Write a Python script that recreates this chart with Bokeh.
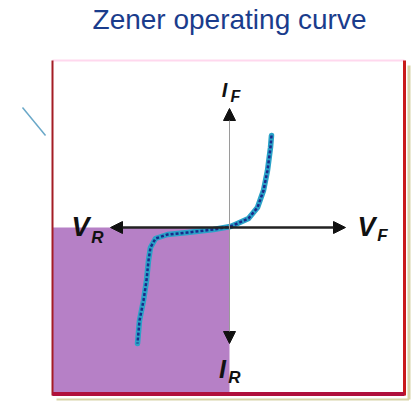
from bokeh.plotting import figure
from bokeh.models import Range1d, Arrow, NormalHead, ColumnDataSource
from bokeh.core.properties import value
from bokeh.embed import file_html
from bokeh.resources import INLINE

# ---- data (schematic units) ----
curve_v = [4.2, 4.1, 3.8, 3.4, 2.8, 1.9, 0.8, 0.1, -1.6, -4.2, -6.2, -7.4, -7.9, -8.1, -8.3, -8.6, -9.0, -9.2]
curve_i = [9.2, 8.0, 5.7, 3.7, 2.0, 0.9, 0.4, 0.1, -0.2, -0.5, -0.7, -1.1, -2.0, -3.3, -5.3, -7.3, -9.3, -11.6]

title_text = "Zener operating curve"
label_main = ["I", "V", "V", "I"]
label_sub = ["F", "R", "F", "R"]

axis_v_extent = [-11.9, 11.6]
axis_i_extent = [-11.6, 11.9]

frame_v = [-17.7, 17.5]
frame_i = [-16.8, 16.7]

# ---- layout ----
main_x = [-0.5, -14.9, 13.7, -0.7]
main_y = [13.8, 0.1, 0.1, -14.1]
sub_x = [0.6, -13.2, 15.3, 0.5]
sub_y = [13.1, -1.0, -0.8, -15.0]
main_size = ["20px", "27px", "27px", "25px"]
sub_size = ["16px", "17px", "17px", "17px"]

p = figure(width=414, height=402, output_backend="svg", toolbar_location=None,
           x_range=Range1d(-22.9, 18.5), y_range=Range1d(-17.5, 22.7),
           min_border=0)
p.axis.visible = False
p.grid.visible = False
p.outline_line_color = None
p.background_fill_color = "white"
p.border_fill_color = "white"

# purple reverse-bias quadrant
p.quad(left=[frame_v[0]], right=[0], top=[0], bottom=[frame_i[0]],
       fill_color="#b680c6", line_color=None)

# frame and its shadow
p.line([frame_v[1] + 0.45, frame_v[1] + 0.45], [frame_i[1] - 0.5, frame_i[0] - 0.4], line_color="#d8d4a8", line_width=3)
p.line([frame_v[0] + 0.4, frame_v[1] + 0.45], [frame_i[0] - 0.4, frame_i[0] - 0.4], line_color="#d8d4a8", line_width=2)
p.line([frame_v[0], frame_v[1]], [frame_i[1], frame_i[1]], line_color="#ffd8ee", line_width=2)
p.line([frame_v[0], frame_v[0]], [frame_i[1], frame_i[0]], line_color="#a41c24", line_width=2)
p.line([frame_v[1], frame_v[1]], [frame_i[1], frame_i[0]], line_color="#c81a1a", line_width=3)
p.line([frame_v[0], frame_v[1]], [frame_i[0] + 0.15, frame_i[0] + 0.15], line_color="#b0103c", line_width=4)

# stray mark on the left
p.line([-20.7, -18.4], [12.0, 9.2], line_color="#6aa8c8", line_width=1.5)

# axes with arrows
head = dict(size=12, fill_color="#111111", line_color="#111111")
p.add_layout(Arrow(x_start=axis_v_extent[0], y_start=0, x_end=axis_v_extent[1], y_end=0,
                   line_color="#222222", line_width=2.5,
                   start=NormalHead(**head), end=NormalHead(**head)))
p.add_layout(Arrow(x_start=0, y_start=axis_i_extent[0], x_end=0, y_end=axis_i_extent[1],
                   line_color="#9a9a9a", line_width=1,
                   start=NormalHead(**head), end=NormalHead(**head)))

# zener curve
p.line(curve_v, curve_i, line_color="#2aa2c8", line_width=5.5, line_join="round", line_cap="round")
p.line(curve_v, curve_i, line_color="#1a2a8a", line_width=2.5, line_dash="3 2", line_join="round")

# labels
src_main = ColumnDataSource(dict(x=main_x, y=main_y, t=label_main, s=main_size))
src_sub = ColumnDataSource(dict(x=sub_x, y=sub_y, t=label_sub, s=sub_size))
p.text(x="x", y="y", text="t", source=src_main, text_font=value("Liberation Sans"),
       text_font_style="bold italic", text_font_size="s", text_color="#111111",
       text_align="center", text_baseline="middle")
p.text(x="x", y="y", text="t", source=src_sub, text_font=value("Liberation Sans"),
       text_font_style="bold italic", text_font_size="s", text_color="#111111",
       text_align="center", text_baseline="middle")

# title
p.text(x=[0.0], y=[20.8], text=[title_text], text_font=value("Liberation Sans"),
       text_font_size="28px", text_color="#1a3c8c", text_align="center",
       text_baseline="middle")

open("out.html", "w").write(file_html(p, INLINE))
